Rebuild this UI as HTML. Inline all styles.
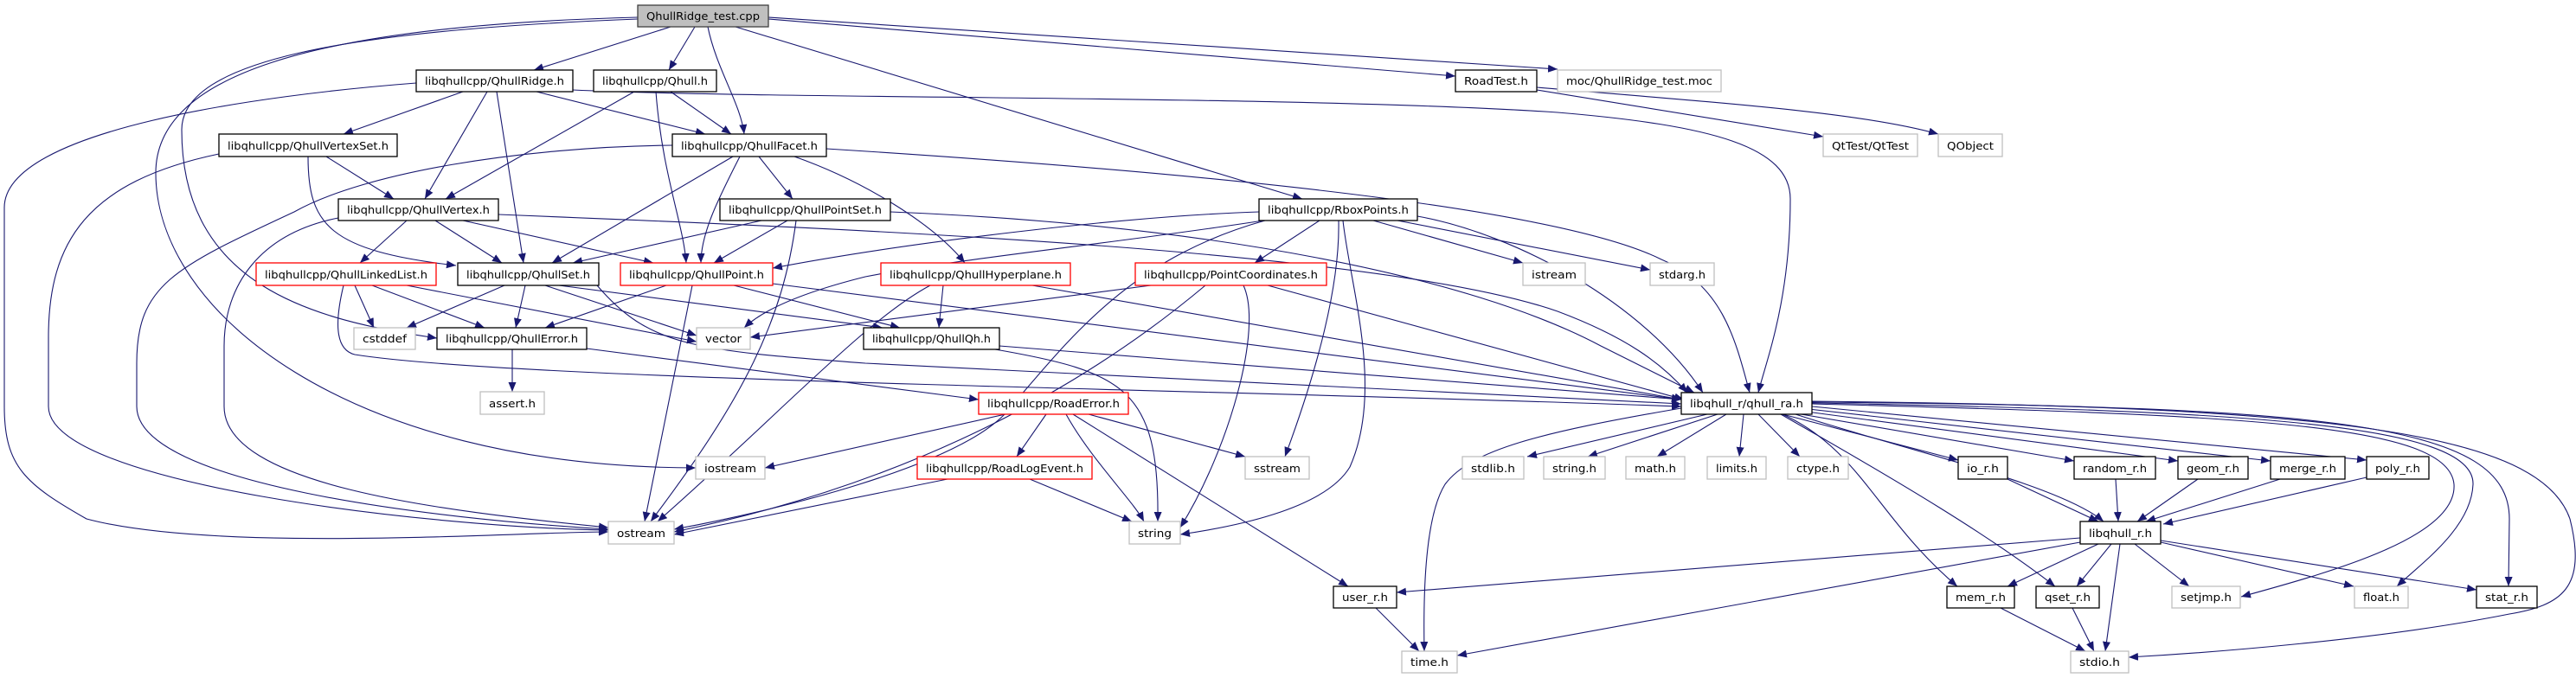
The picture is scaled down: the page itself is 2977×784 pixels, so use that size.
<!DOCTYPE html>
<html><head><meta charset="utf-8"><style>
html,body{margin:0;padding:0;background:#fff;}
svg{display:block;}
text{font-family:"DejaVu Sans","Liberation Sans",sans-serif;font-size:12.5px;fill:#000;}
.n{fill:#fff;stroke:#000;stroke-width:1.3;}
.r{fill:#fff;stroke:#ff0000;stroke-width:1.3;}
.g{fill:#fff;stroke:#bfbfbf;stroke-width:1.3;}
path.e{fill:none;stroke:#191970;stroke-width:1.1;marker-end:url(#a);}
</style></head><body>
<svg width="2977" height="784" viewBox="0 0 2977 784" xmlns="http://www.w3.org/2000/svg">
<defs><marker id="a" markerUnits="userSpaceOnUse" markerWidth="12" markerHeight="10" refX="11" refY="4.5" orient="auto"><path d="M0,0 L11,4.5 L0,9 z" fill="#191970"/></marker></defs>
<!-- edges -->
<path class="e" d="M775,31 L617,81"/>
<path class="e" d="M803,31 L773,81"/>
<path class="e" d="M818,31 C828,80 856,120 860,155"/>
<path class="e" d="M850,31 L1505,230"/>
<path class="e" d="M888,22 L1682,88"/>
<path class="e" d="M888,20 L1800,80"/>
<path class="e" d="M737,22 C400,35 210,70 210,150 C210,330 360,370 505,391"/>
<path class="e" d="M737,20 C350,30 180,90 180,200 C180,360 400,540 804,541"/>
<path class="e" d="M535,106 L397,155"/>
<path class="e" d="M563,106 L491,230"/>
<path class="e" d="M574,106 L605,304"/>
<path class="e" d="M620,106 L815,155"/>
<path class="e" d="M662,104 C900,115 1500,110 1800,130 C1980,145 2069,170 2069,230 C2069,350 2040,420 2032,454"/>
<path class="e" d="M481,96 C300,110 5,150 5,240 L5,470 C5,540 30,560 100,600 C250,640 600,615 703,615"/>
<path class="e" d="M733,106 L515,230"/>
<path class="e" d="M775,106 L845,155"/>
<path class="e" d="M758,106 C765,200 790,260 793,304"/>
<path class="e" d="M377,181 L455,230"/>
<path class="e" d="M356,181 C356,260 380,290 527,307"/>
<path class="e" d="M253,178 C100,210 56,280 56,390 L56,470 C56,560 500,610 703,613"/>
<path class="e" d="M847,181 L638,304"/>
<path class="e" d="M855,181 C830,230 810,270 810,304"/>
<path class="e" d="M877,181 L916,230"/>
<path class="e" d="M918,181 C1000,210 1080,260 1115,304"/>
<path class="e" d="M955,172 C1400,200 1800,240 1920,300 C1990,330 2005,390 2022,454"/>
<path class="e" d="M777,168 C600,170 420,200 340,245 C200,310 158,330 158,420 L158,470 C158,560 500,600 703,612"/>
<path class="e" d="M470,255 L416,304"/>
<path class="e" d="M503,255 L580,304"/>
<path class="e" d="M535,255 L755,304"/>
<path class="e" d="M576,248 C1000,265 1600,290 1800,360 C1880,390 1920,420 1950,454"/>
<path class="e" d="M391,252 C300,270 259,330 259,400 L259,470 C259,560 500,590 703,610"/>
<path class="e" d="M880,255 L662,304"/>
<path class="e" d="M910,255 L825,304"/>
<path class="e" d="M920,255 C905,370 860,460 752,603"/>
<path class="e" d="M1029,245 C1400,260 1700,320 1850,400 L1958,454"/>
<path class="e" d="M1455,245 C1300,250 1050,280 893,310"/>
<path class="e" d="M1525,255 L1450,304"/>
<path class="e" d="M1587,255 L1760,304"/>
<path class="e" d="M1615,255 L1907,312"/>
<path class="e" d="M1638,250 C1750,270 1900,350 1968,454"/>
<path class="e" d="M1547,255 C1548,300 1540,380 1485,528"/>
<path class="e" d="M1552,255 C1560,330 1600,450 1560,540 C1530,590 1420,610 1364,618"/>
<path class="e" d="M1460,255 C1300,280 1100,300 1000,320 C920,340 880,360 860,379"/>
<path class="e" d="M1462,255 C1300,300 1230,400 1160,480 C1100,540 900,590 779,612"/>
<path class="e" d="M410,330 L432,379"/>
<path class="e" d="M430,330 L560,379"/>
<path class="e" d="M470,330 L805,395"/>
<path class="e" d="M397,330 C385,380 390,405 410,410 C600,440 1400,450 1943,470"/>
<path class="e" d="M583,330 L470,379"/>
<path class="e" d="M607,330 L596,379"/>
<path class="e" d="M630,330 L805,388"/>
<path class="e" d="M646,330 L1020,379"/>
<path class="e" d="M690,330 C750,400 800,405 1000,420 L1943,467"/>
<path class="e" d="M770,330 L630,379"/>
<path class="e" d="M848,330 L1040,379"/>
<path class="e" d="M893,328 L1943,462"/>
<path class="e" d="M800,330 L745,603"/>
<path class="e" d="M592,404 L592,453"/>
<path class="e" d="M678,403 L1131,462"/>
<path class="e" d="M1090,330 L1085,379"/>
<path class="e" d="M1075,330 C1000,370 900,480 760,603"/>
<path class="e" d="M1193,330 L1943,462"/>
<path class="e" d="M1330,330 L867,390"/>
<path class="e" d="M1393,330 C1250,450 1050,560 779,615"/>
<path class="e" d="M1437,330 C1460,380 1420,520 1364,610"/>
<path class="e" d="M1465,330 L1946,462"/>
<path class="e" d="M1155,400 L1943,462"/>
<path class="e" d="M1150,404 C1300,430 1340,450 1338,603"/>
<path class="e" d="M1209,479 L1175,528"/>
<path class="e" d="M1232,479 C1260,530 1310,580 1322,603"/>
<path class="e" d="M1258,479 L1439,528"/>
<path class="e" d="M1240,479 L1558,678"/>
<path class="e" d="M1162,479 L884,541"/>
<path class="e" d="M1190,554 L1308,603"/>
<path class="e" d="M1095,554 L779,618"/>
<path class="e" d="M1776,104 L2107,158"/>
<path class="e" d="M1776,101 C2000,120 2150,130 2240,155"/>
<path class="e" d="M1973,479 L1765,528"/>
<path class="e" d="M1985,479 L1835,528"/>
<path class="e" d="M1995,479 L1915,528"/>
<path class="e" d="M2015,479 L2010,528"/>
<path class="e" d="M2032,479 L2080,528"/>
<path class="e" d="M2060,479 L2263,532"/>
<path class="e" d="M2070,477 L2397,533"/>
<path class="e" d="M2080,475 L2517,533"/>
<path class="e" d="M2090,473 L2624,533"/>
<path class="e" d="M2094,470 L2735,532"/>
<path class="e" d="M2075,479 C2200,520 2380,560 2431,603"/>
<path class="e" d="M2060,479 C2150,520 2170,600 2262,678"/>
<path class="e" d="M2058,479 C2200,560 2300,620 2375,678"/>
<path class="e" d="M2094,467 C2600,480 2830,490 2836,560 C2840,620 2700,660 2590,690"/>
<path class="e" d="M2094,466 C2600,475 2860,490 2858,560 C2856,610 2800,650 2770,678"/>
<path class="e" d="M2094,465 C2700,470 2900,490 2900,600 L2899,678"/>
<path class="e" d="M2094,464 C2700,470 2935,500 2970,600 C2990,680 2960,700 2900,710 C2750,740 2550,755 2460,760"/>
<path class="e" d="M1943,472 C1780,500 1700,520 1670,560 C1645,600 1645,700 1646,753"/>
<path class="e" d="M2320,554 L2425,603"/>
<path class="e" d="M2445,554 L2448,603"/>
<path class="e" d="M2540,554 L2470,603"/>
<path class="e" d="M2635,554 L2480,603"/>
<path class="e" d="M2735,552 L2500,606"/>
<path class="e" d="M2404,622 L1614,685"/>
<path class="e" d="M2404,627 L1684,758"/>
<path class="e" d="M2425,629 L2320,678"/>
<path class="e" d="M2440,629 L2400,678"/>
<path class="e" d="M2450,629 L2433,753"/>
<path class="e" d="M2467,629 L2530,678"/>
<path class="e" d="M2497,627 L2720,678"/>
<path class="e" d="M2497,625 L2862,682"/>
<path class="e" d="M2312,703 L2410,753"/>
<path class="e" d="M2395,703 L2420,753"/>
<path class="e" d="M1590,703 L1640,753"/>
<!-- nodes -->
<rect x="737" y="6" width="151" height="25" fill="#bfbfbf" stroke="#404040" stroke-width="1.3"/><text x="812.5" y="23" text-anchor="middle" textLength="131" lengthAdjust="spacingAndGlyphs">QhullRidge_test.cpp</text>
<rect class="n" x="481" y="81" width="181" height="25"/><text x="571.5" y="98" text-anchor="middle" textLength="161" lengthAdjust="spacingAndGlyphs">libqhullcpp/QhullRidge.h</text>
<rect class="n" x="686" y="81" width="142" height="25"/><text x="757" y="98" text-anchor="middle" textLength="122" lengthAdjust="spacingAndGlyphs">libqhullcpp/Qhull.h</text>
<rect class="n" x="1682" y="81" width="94" height="25"/><text x="1729" y="98" text-anchor="middle" textLength="74" lengthAdjust="spacingAndGlyphs">RoadTest.h</text>
<rect class="g" x="1800" y="81" width="189" height="25"/><text x="1894.5" y="98" text-anchor="middle" textLength="169" lengthAdjust="spacingAndGlyphs">moc/QhullRidge_test.moc</text>
<rect class="n" x="253" y="155" width="206" height="26"/><text x="356" y="173" text-anchor="middle" textLength="186" lengthAdjust="spacingAndGlyphs">libqhullcpp/QhullVertexSet.h</text>
<rect class="n" x="777" y="155" width="178" height="26"/><text x="866" y="173" text-anchor="middle" textLength="158" lengthAdjust="spacingAndGlyphs">libqhullcpp/QhullFacet.h</text>
<rect class="g" x="2107" y="155" width="109" height="26"/><text x="2161.5" y="173" text-anchor="middle" textLength="89" lengthAdjust="spacingAndGlyphs">QtTest/QtTest</text>
<rect class="g" x="2240" y="155" width="74" height="26"/><text x="2277" y="173" text-anchor="middle" textLength="54" lengthAdjust="spacingAndGlyphs">QObject</text>
<rect class="n" x="391" y="230" width="185" height="25"/><text x="483.5" y="247" text-anchor="middle" textLength="165" lengthAdjust="spacingAndGlyphs">libqhullcpp/QhullVertex.h</text>
<rect class="n" x="832" y="230" width="197" height="25"/><text x="930.5" y="247" text-anchor="middle" textLength="177" lengthAdjust="spacingAndGlyphs">libqhullcpp/QhullPointSet.h</text>
<rect class="n" x="1455" y="230" width="183" height="25"/><text x="1546.5" y="247" text-anchor="middle" textLength="163" lengthAdjust="spacingAndGlyphs">libqhullcpp/RboxPoints.h</text>
<rect class="r" x="296" y="304" width="208" height="26"/><text x="400" y="322" text-anchor="middle" textLength="188" lengthAdjust="spacingAndGlyphs">libqhullcpp/QhullLinkedList.h</text>
<rect class="n" x="529" y="304" width="163" height="26"/><text x="610.5" y="322" text-anchor="middle" textLength="143" lengthAdjust="spacingAndGlyphs">libqhullcpp/QhullSet.h</text>
<rect class="r" x="717" y="304" width="176" height="26"/><text x="805" y="322" text-anchor="middle" textLength="156" lengthAdjust="spacingAndGlyphs">libqhullcpp/QhullPoint.h</text>
<rect class="r" x="1018" y="304" width="219" height="26"/><text x="1127.5" y="322" text-anchor="middle" textLength="199" lengthAdjust="spacingAndGlyphs">libqhullcpp/QhullHyperplane.h</text>
<rect class="r" x="1312" y="304" width="221" height="26"/><text x="1422.5" y="322" text-anchor="middle" textLength="201" lengthAdjust="spacingAndGlyphs">libqhullcpp/PointCoordinates.h</text>
<rect class="g" x="1760" y="304" width="72" height="26"/><text x="1796" y="322" text-anchor="middle" textLength="52" lengthAdjust="spacingAndGlyphs">istream</text>
<rect class="g" x="1907" y="304" width="74" height="26"/><text x="1944" y="322" text-anchor="middle" textLength="54" lengthAdjust="spacingAndGlyphs">stdarg.h</text>
<rect class="g" x="409" y="379" width="71" height="25"/><text x="444.5" y="396" text-anchor="middle" textLength="51" lengthAdjust="spacingAndGlyphs">cstddef</text>
<rect class="n" x="505" y="379" width="173" height="25"/><text x="591.5" y="396" text-anchor="middle" textLength="153" lengthAdjust="spacingAndGlyphs">libqhullcpp/QhullError.h</text>
<rect class="g" x="805" y="379" width="62" height="25"/><text x="836" y="396" text-anchor="middle" textLength="42" lengthAdjust="spacingAndGlyphs">vector</text>
<rect class="n" x="998" y="379" width="157" height="25"/><text x="1076.5" y="396" text-anchor="middle" textLength="137" lengthAdjust="spacingAndGlyphs">libqhullcpp/QhullQh.h</text>
<rect class="g" x="555" y="453" width="74" height="26"/><text x="592" y="471" text-anchor="middle" textLength="54" lengthAdjust="spacingAndGlyphs">assert.h</text>
<rect class="r" x="1131" y="454" width="173" height="25"/><text x="1217.5" y="471" text-anchor="middle" textLength="153" lengthAdjust="spacingAndGlyphs">libqhullcpp/RoadError.h</text>
<rect class="n" x="1943" y="454" width="151" height="25"/><text x="2018.5" y="471" text-anchor="middle" textLength="131" lengthAdjust="spacingAndGlyphs">libqhull_r/qhull_ra.h</text>
<rect class="r" x="1060" y="528" width="202" height="26"/><text x="1161" y="546" text-anchor="middle" textLength="182" lengthAdjust="spacingAndGlyphs">libqhullcpp/RoadLogEvent.h</text>
<rect class="g" x="804" y="528" width="80" height="26"/><text x="844" y="546" text-anchor="middle" textLength="60" lengthAdjust="spacingAndGlyphs">iostream</text>
<rect class="g" x="1439" y="528" width="74" height="26"/><text x="1476" y="546" text-anchor="middle" textLength="54" lengthAdjust="spacingAndGlyphs">sstream</text>
<rect class="g" x="1690" y="528" width="71" height="26"/><text x="1725.5" y="546" text-anchor="middle" textLength="51" lengthAdjust="spacingAndGlyphs">stdlib.h</text>
<rect class="g" x="1784" y="528" width="71" height="26"/><text x="1819.5" y="546" text-anchor="middle" textLength="51" lengthAdjust="spacingAndGlyphs">string.h</text>
<rect class="g" x="1879" y="528" width="68" height="26"/><text x="1913" y="546" text-anchor="middle" textLength="48" lengthAdjust="spacingAndGlyphs">math.h</text>
<rect class="g" x="1973" y="528" width="68" height="26"/><text x="2007" y="546" text-anchor="middle" textLength="48" lengthAdjust="spacingAndGlyphs">limits.h</text>
<rect class="g" x="2066" y="528" width="70" height="26"/><text x="2101" y="546" text-anchor="middle" textLength="50" lengthAdjust="spacingAndGlyphs">ctype.h</text>
<rect class="n" x="2263" y="528" width="57" height="26"/><text x="2291.5" y="546" text-anchor="middle" textLength="37" lengthAdjust="spacingAndGlyphs">io_r.h</text>
<rect class="n" x="2397" y="528" width="94" height="26"/><text x="2444" y="546" text-anchor="middle" textLength="74" lengthAdjust="spacingAndGlyphs">random_r.h</text>
<rect class="n" x="2517" y="528" width="81" height="26"/><text x="2557.5" y="546" text-anchor="middle" textLength="61" lengthAdjust="spacingAndGlyphs">geom_r.h</text>
<rect class="n" x="2624" y="528" width="86" height="26"/><text x="2667" y="546" text-anchor="middle" textLength="66" lengthAdjust="spacingAndGlyphs">merge_r.h</text>
<rect class="n" x="2735" y="528" width="72" height="26"/><text x="2771" y="546" text-anchor="middle" textLength="52" lengthAdjust="spacingAndGlyphs">poly_r.h</text>
<rect class="g" x="703" y="603" width="76" height="26"/><text x="741" y="621" text-anchor="middle" textLength="56" lengthAdjust="spacingAndGlyphs">ostream</text>
<rect class="g" x="1305" y="603" width="59" height="26"/><text x="1334.5" y="621" text-anchor="middle" textLength="39" lengthAdjust="spacingAndGlyphs">string</text>
<rect class="n" x="2404" y="603" width="93" height="26"/><text x="2450.5" y="621" text-anchor="middle" textLength="73" lengthAdjust="spacingAndGlyphs">libqhull_r.h</text>
<rect class="n" x="1541" y="678" width="73" height="25"/><text x="1577.5" y="695" text-anchor="middle" textLength="53" lengthAdjust="spacingAndGlyphs">user_r.h</text>
<rect class="n" x="2250" y="678" width="78" height="25"/><text x="2289" y="695" text-anchor="middle" textLength="58" lengthAdjust="spacingAndGlyphs">mem_r.h</text>
<rect class="n" x="2353" y="678" width="73" height="25"/><text x="2389.5" y="695" text-anchor="middle" textLength="53" lengthAdjust="spacingAndGlyphs">qset_r.h</text>
<rect class="g" x="2510" y="678" width="79" height="25"/><text x="2549.5" y="695" text-anchor="middle" textLength="59" lengthAdjust="spacingAndGlyphs">setjmp.h</text>
<rect class="g" x="2721" y="678" width="62" height="25"/><text x="2752" y="695" text-anchor="middle" textLength="42" lengthAdjust="spacingAndGlyphs">float.h</text>
<rect class="n" x="2862" y="678" width="70" height="25"/><text x="2897" y="695" text-anchor="middle" textLength="50" lengthAdjust="spacingAndGlyphs">stat_r.h</text>
<rect class="g" x="1620" y="753" width="64" height="25"/><text x="1652" y="770" text-anchor="middle" textLength="44" lengthAdjust="spacingAndGlyphs">time.h</text>
<rect class="g" x="2393" y="753" width="67" height="25"/><text x="2426.5" y="770" text-anchor="middle" textLength="47" lengthAdjust="spacingAndGlyphs">stdio.h</text>
</svg>
</body></html>
